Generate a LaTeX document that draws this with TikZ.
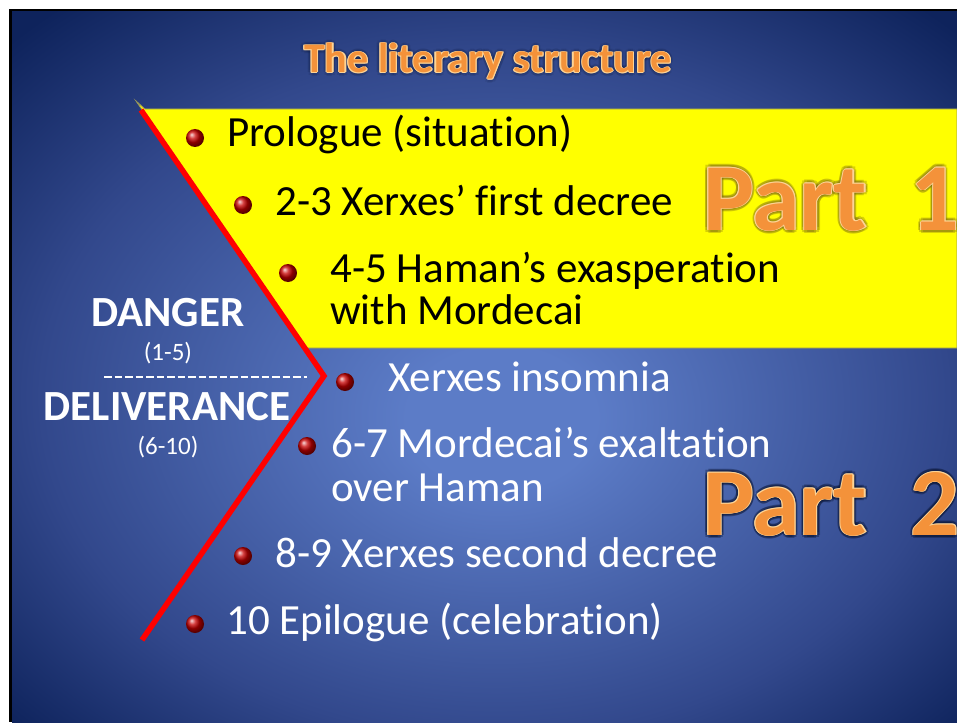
\documentclass[tikz,border=0pt]{standalone}
\usepackage{fontspec}
\setmainfont{Carlito}[Ligatures={NoCommon}]
\definecolor{bgA}{RGB}{92,124,199}
\definecolor{bgB}{RGB}{50,72,140}
\definecolor{bgC}{RGB}{14,35,92}
\definecolor{ylw}{RGB}{255,255,0}
\definecolor{yedge}{RGB}{150,150,90}
\definecolor{orng}{RGB}{244,146,58}
\definecolor{cream}{RGB}{253,212,150}
\definecolor{glowA}{RGB}{120,100,20}
\definecolor{glowB}{RGB}{8,18,48}
\pgfdeclareradialshading{slidebg}{\pgfpoint{1bp}{-4bp}}{color(0bp)=(bgA); color(5bp)=(bgA); color(24bp)=(bgB); color(35bp)=(bgC); color(50bp)=(bgC)}
\newcommand\fancytext[7]{% #1 name, #2 coords, #3 font, #4 glow colour, #5 glow opacity, #6 anchor, #7 text
  \foreach \a in {0,45,...,315} {\node[fancy, anchor=#6, font=#3, text=#4, opacity=#5] (#1-g\a) at ([shift={(\a:3.2pt)}]#2) {#7};}
  \foreach \a in {0,60,...,300} {\node[fancy, anchor=#6, font=#3, text=cream] (#1-o\a) at ([shift={(\a:1.1pt)}]#2) {#7};}
  \node[fancy, anchor=#6, font=#3, text=orng] (#1) at (#2) {#7};
}
\begin{document}
\begin{tikzpicture}[x=1pt,y=-1pt,
  body/.style={anchor=base west, inner sep=0pt, font=\fontsize{43}{50}\selectfont},
  dark/.style={body, text=black},
  light/.style={body, text=white},
  sidelbl/.style={anchor=base, inner sep=0pt, text=white, font=\fontsize{43}{50}\selectfont\bfseries},
  sidesmall/.style={anchor=base, inner sep=0pt, text=white, font=\fontsize{25}{30}\selectfont},
  bullet/.style={circle, inner sep=0pt, minimum size=18pt, shading=ball, ball color=red!78!black},
  fancy/.style={inner sep=0pt}
]
\useasboundingbox (0,0) rectangle (957,722);
\fill[white] (0,0) rectangle (957,722);
\fill[black] (9,9) rectangle (957,722);
\shade[shading=slidebg] (12,12) rectangle (957,722);

% yellow band
\fill[ylw, draw=yedge, line width=0.8pt] (136,101) -- (145,109) -- (957,109) -- (957,348) -- (307,348) -- cycle;

% red chevron
\coordinate (rt) at (141,110);
\coordinate (rv) at (324,376);
\coordinate (rb) at (142,640);
\draw[red, line width=5.5pt] (rt) -- (rv) -- (rb);

% dashed divider
\coordinate (dl) at (104,377);
\coordinate (dr) at (307,377);
\draw[white, line width=1.7pt, dash pattern=on 7.5pt off 3pt] (dl) -- (dr);

% side labels
\node[sidelbl] (danger) at (168,326) {DANGER};
\node[sidesmall] (r15) at (168,360) {(1-5)};
\node[sidelbl] (deliv) at (167,420) {DELIVERANCE};
\node[sidesmall] (r610) at (168,454) {(6-10)};

% title
\fancytext{title}{488,73}{\fontsize{42}{50}\selectfont\bfseries}{glowB}{0.12}{base}{The literary structure}

% bullets and items
\node[bullet] (b1) at (195,138) {};
\node[dark] (t1) at (227,147) {Prologue (situation)};
\node[bullet] (b2) at (243,205) {};
\node[dark] (t2) at (275,215) {2-3 Xerxes’ first decree};
\node[bullet] (b3) at (288,273) {};
\node[dark] (t3) at (330,282) {4-5 Haman’s exasperation};
\node[dark] (t3b) at (330,324) {with Mordecai};
\node[bullet] (b4) at (345,382) {};
\node[light] (t4) at (388,391) {Xerxes insomnia};
\node[bullet] (b5) at (307,446) {};
\node[light] (t5) at (331,457) {6-7 Mordecai’s exaltation};
\node[light] (t5b) at (331,501) {over Haman};
\node[bullet] (b6) at (243,556) {};
\node[light] (t6) at (275,567) {8-9 Xerxes second decree};
\node[bullet] (b7) at (195,624) {};
\node[light] (t7) at (226,634) {10 Epilogue (celebration)};

% part labels
\fancytext{part1}{703,230}{\fontsize{96}{110}\selectfont\bfseries}{glowA}{0.3}{base west}{Part\ \ 1}
\fancytext{part2}{703,535}{\fontsize{96}{110}\selectfont\bfseries}{glowB}{0.35}{base west}{Part\ \ 2}
\end{tikzpicture}
\end{document}
